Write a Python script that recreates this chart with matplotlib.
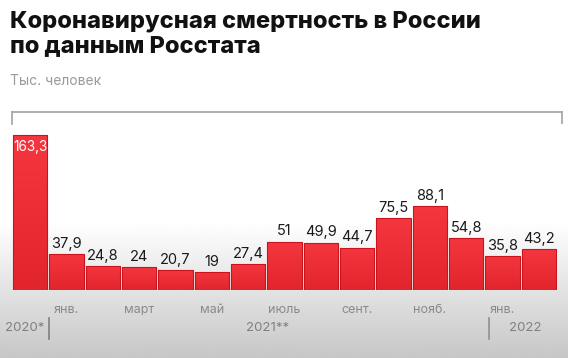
import numpy as np
import matplotlib.pyplot as plt
from matplotlib.lines import Line2D
from matplotlib.colors import LinearSegmentedColormap

plt.rcParams['font.family'] = ['Inter', 'DejaVu Sans']

# data
values = [163.3, 37.9, 24.8, 24, 20.7, 19, 27.4, 51, 49.9, 44.7, 75.5, 88.1, 54.8, 35.8, 43.2]
value_labels = ['163,3', '37,9', '24,8', '24', '20,7', '19', '27,4', '51', '49,9',
                '44,7', '75,5', '88,1', '54,8', '35,8', '43,2']
month_pos = [1, 3, 5, 7, 9, 11, 13]
month_labels = ['янв.', 'март', 'май', 'июль', 'сент.', 'нояб.', 'янв.']

W, H = 568, 358
fig = plt.figure(figsize=(W / 100, H / 100), dpi=100)

# background gradient (white -> light grey towards the bottom)
bg = fig.add_axes([0, 0, 1, 1], zorder=-10)
rows = np.linspace(0, 1, 200)
shade = np.where(rows < 0.62, 1.0, 1.0 - (rows - 0.62) / 0.38 * 0.22)
img = np.repeat(shade[:, None], 2, axis=1)
bg.imshow(img, cmap='gray', vmin=0, vmax=1, aspect='auto', extent=[0, 1, 0, 1])
bg.axis('off')

def fx(px):
    return px / W

def fy(py):
    return 1 - py / H

ymax = 175
ax = fig.add_axes([fx(12), fy(290), (557 - 12) / W, ymax * 0.95 / H])
ax.patch.set_alpha(0)
x = np.arange(len(values))
bars = ax.bar(x, values, width=0.95, color='#ee2d36', edgecolor='#c9141d', linewidth=0.8)

# soft vertical gradient inside each bar
red_cmap = LinearSegmentedColormap.from_list('reds', ['#e2252d', '#f5363f'])
grad = np.linspace(0, 1, 100)[:, None]
for b in bars:
    im = ax.imshow(grad, cmap=red_cmap, origin='lower', aspect='auto',
                   extent=[b.get_x(), b.get_x() + b.get_width(), 0, b.get_height()], zorder=1.5)
    im.set_clip_path(b)
for b in bars:
    b.set_zorder(2)
    b.set_facecolor('none')

ax.set_xlim(-0.5, len(values) - 0.5)
ax.set_ylim(0, ymax)
for s in ax.spines.values():
    s.set_visible(False)
ax.set_yticks([])
ax.set_xticks(month_pos)
ax.set_xticklabels(month_labels, fontsize=9, color='#8a8a8a')
ax.tick_params(axis='x', length=0, pad=10)

for i, (v, lab) in enumerate(zip(values, value_labels)):
    if i == 0:
        ax.text(i, v - 5, lab, ha='center', va='top', fontsize=9.8, color='white', zorder=3)
    else:
        ax.text(i, v + 3.5, lab, ha='center', va='bottom', fontsize=10.5, color='#1a1a1a', zorder=3)

# bracket on top
grey = '#a8a8a8'
fig.add_artist(Line2D([fx(12), fx(562)], [fy(112), fy(112)], color=grey, lw=1.3))
fig.add_artist(Line2D([fx(12), fx(12)], [fy(112), fy(124)], color=grey, lw=1.3))
fig.add_artist(Line2D([fx(562), fx(562)], [fy(112), fy(123)], color=grey, lw=1.3))

# year labels
fig.text(fx(25), fy(328), '2020*', ha='center', va='center', fontsize=9.5, color='#808080')
fig.text(fx(268), fy(328), '2021**', ha='center', va='center', fontsize=9.5, color='#808080')
fig.text(fx(525), fy(328), '2022', ha='center', va='center', fontsize=9.5, color='#808080')
fig.add_artist(Line2D([fx(49), fx(49)], [fy(318), fy(339)], color='#808080', lw=1.2))
fig.add_artist(Line2D([fx(489), fx(489)], [fy(318), fy(339)], color='#909090', lw=1.2))

# title
fig.text(fx(10), fy(21), 'Коронавирусная смертность в России', ha='left', va='center',
         fontsize=17, fontweight='heavy', color='#111111')
fig.text(fx(10), fy(46), 'по данным Росстата', ha='left', va='center',
         fontsize=17, fontweight='heavy', color='#111111')
fig.text(fx(10), fy(81), 'Тыс. человек', ha='left', va='center', fontsize=10, color='#9a9a9a')

fig.savefig('out.png', dpi=100)
